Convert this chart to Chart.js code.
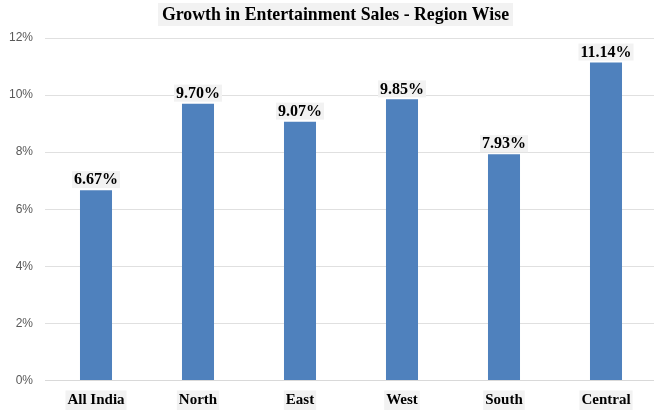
<!DOCTYPE html>
<html>
<head>
<meta charset="utf-8">
<script src="https://cdn.jsdelivr.net/npm/chart.js@4/dist/chart.umd.min.js"></script>
<style>
  html, body { margin: 0; padding: 0; background: #fff; overflow: hidden; }
  #wrap { width: 657px; height: 410px; }
</style>
</head>
<body>
<div id="wrap"><canvas id="chart"></canvas></div>
<script>
const regions = ["All India", "North", "East", "West", "South", "Central"];
const growth = [6.67, 9.70, 9.07, 9.85, 7.93, 11.14];
const chartTitle = "Growth in Entertainment Sales - Region Wise";

const serifBold = "'Liberation Serif', 'Times New Roman', serif";
const labelBg = "#f2f2f2";

// title with a grey box behind it
const titleBox = {
  id: "titleBox",
  afterDraw(chart) {
    const ctx = chart.ctx;
    ctx.save();
    ctx.font = "bold 17.8px " + serifBold;
    const w = ctx.measureText(chartTitle).width;
    const cx = 335.5;
    ctx.fillStyle = labelBg;
    ctx.fillRect(cx - w / 2 - 4, 3, w + 8, 23);
    ctx.fillStyle = "#000";
    ctx.textAlign = "center";
    ctx.textBaseline = "middle";
    ctx.fillText(chartTitle, cx, 15);
    ctx.restore();
  }
};

// value labels above each bar
const barValues = {
  id: "barValues",
  afterDatasetsDraw(chart) {
    const ctx = chart.ctx;
    const meta = chart.getDatasetMeta(0);
    ctx.save();
    ctx.font = "bold 16px " + serifBold;
    ctx.textAlign = "center";
    ctx.textBaseline = "middle";
    meta.data.forEach((bar, i) => {
      const text = growth[i].toFixed(2) + "%";
      const w = ctx.measureText(text).width;
      const bottom = bar.y - 2;
      ctx.fillStyle = labelBg;
      ctx.fillRect(bar.x - w / 2 - 2, bottom - 17, w + 4, 17);
      ctx.fillStyle = "#000";
      ctx.fillText(text, bar.x, bottom - 8);
    });
    ctx.restore();
  }
};

new Chart(document.getElementById("chart"), {
  type: "bar",
  data: {
    labels: regions,
    datasets: [
      {
        data: growth,
        backgroundColor: "#4f81bd",
        barPercentage: 0.314,
        categoryPercentage: 1,
      },
    ],
  },
  options: {
    responsive: true,
    maintainAspectRatio: false,
    animation: false,
    layout: { padding: { top: 38, left: 9, right: 0, bottom: 0 } },
    plugins: {
      legend: { display: false },
      title: { display: false },
      tooltip: { enabled: false },
    },
    scales: {
      x: {
        grid: { display: false, drawTicks: false },
        border: { color: "#d9d9d9" },
        afterFit: (scale) => { scale.height = 29.5; },
        ticks: {
          color: "#000",
          font: { family: serifBold, size: 15, weight: "bold" },
          padding: 11,
          showLabelBackdrop: true,
          backdropColor: labelBg,
          backdropPadding: { top: 1, bottom: 1, left: 2, right: 2 },
        },
      },
      y: {
        min: 0,
        max: 12,
        grid: { color: "#e0e0e0", drawTicks: false },
        border: { display: false },
        afterFit: (scale) => { scale.width = 36; },
        ticks: {
          stepSize: 2,
          color: "#595959",
          padding: 12,
          font: { family: "'Liberation Sans', Arial, sans-serif", size: 12 },
          callback: (v) => v + "%",
        },
      },
    },
  },
  plugins: [titleBox, barValues],
});
</script>
</body>
</html>
